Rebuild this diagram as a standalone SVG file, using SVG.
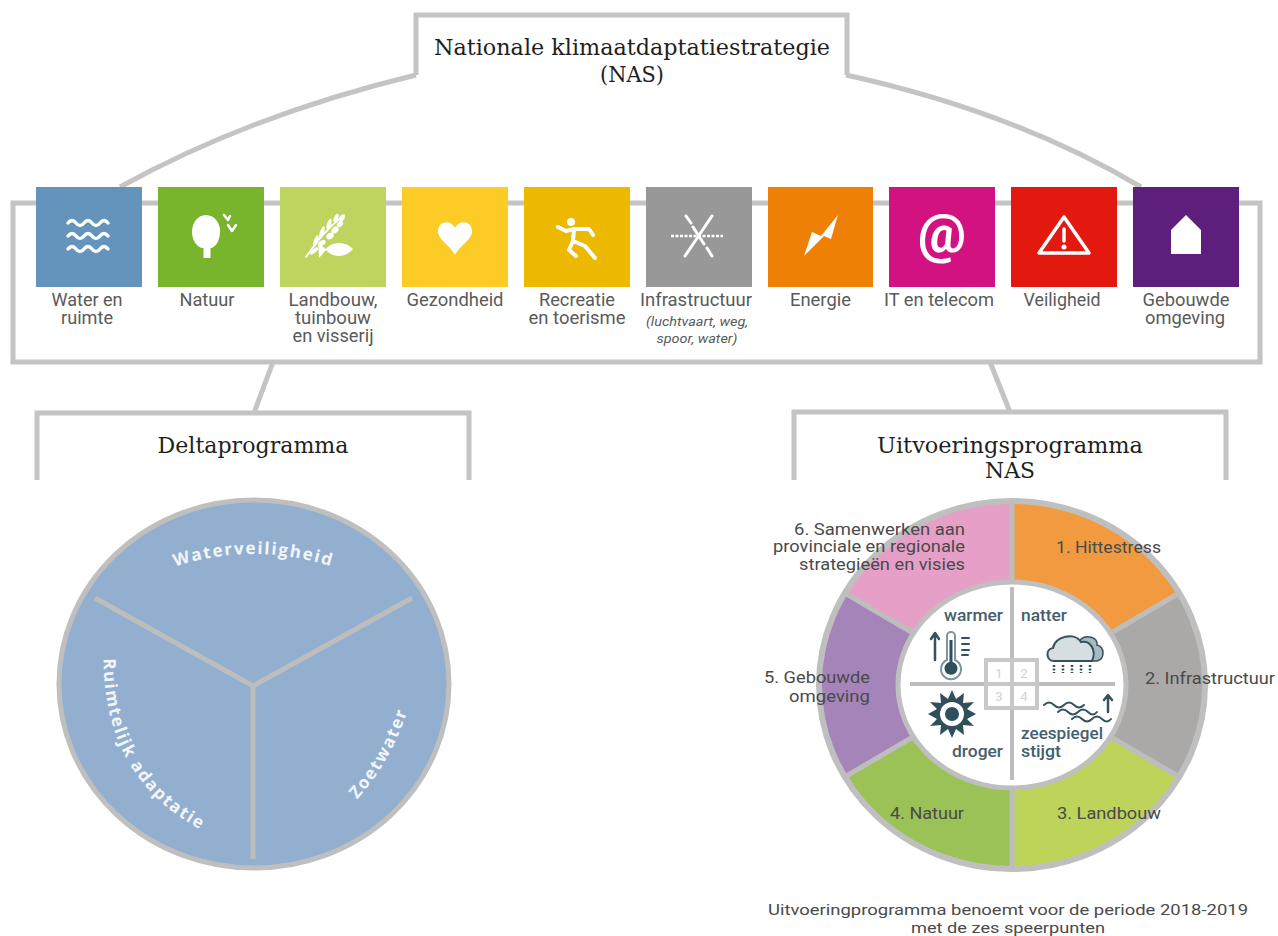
<svg xmlns="http://www.w3.org/2000/svg" width="1278" height="936" viewBox="0 0 1278 936">
<style>
text{font-family:Roboto,"Liberation Sans",sans-serif}
.fr{fill:none;stroke:#c4c4c4;stroke-width:5}
.sq{stroke:none}
.lb{font-size:17.500px;fill:#5a5a5a;text-anchor:middle}
.it{font-size:13.500px;font-style:italic;fill:#5a5a5a;text-anchor:middle}
.ti{font-family:"DejaVu Serif","Liberation Serif",serif;font-size:22px;fill:#1f1f1f;text-anchor:middle}
.ic{fill:none;stroke:#fff;stroke-width:3;stroke-linecap:round;stroke-linejoin:round}
.wf{fill:#fff;stroke:none}
.cv{font-family:"Open Sans","Liberation Sans",sans-serif;font-size:17px;font-weight:700;fill:#f2f6fa;letter-spacing:1.700px}
.sg{font-size:16.500px;fill:#4a4a4a}
.ft{font-size:15.200px;fill:#4a4a4a;text-anchor:middle}
.cl{font-size:17px;font-weight:500;fill:#44606c}
.n{font-size:13px;fill:#d2d2d2;text-anchor:middle}
.dk{fill:none;stroke:#35525e;stroke-width:2.500;stroke-linecap:round;stroke-linejoin:round}
.df{fill:#2f4f5b;stroke:none}
.sp{stroke:#bdbdbd;stroke-width:5;fill:none}
</style>
<rect width="1278" height="936" fill="#fff"/>
<g id="connectors">
<path class="fr" d="M120,187 Q250,115 416,75 M846,75 Q1015,112 1141,187"/>
<path class="fr" d="M273,362 L254,413 M990,362 L1010,412"/>
</g>
<g id="nas-title">
<path class="fr" d="M416,75 V15 H847 V75"/>
<text class="ti" x="632" y="55" textLength="396" lengthAdjust="spacingAndGlyphs">Nationale klimaatdaptatiestrategie</text>
<text class="ti" x="632" y="82" textLength="64" lengthAdjust="spacingAndGlyphs">(NAS)</text>
</g>
<g id="sector-frame"><rect class="fr" x="13" y="203" width="1247" height="159"/></g>
<g id="water">
<rect class="sq" x="36" y="187" width="106" height="100" fill="#6494bc"/>
<path class="ic" style="stroke-width:3.500" d="M68,223 q4,-5 8,0 t8,0 t8,0 t8,0 t8,0 M68,236 q4,-5 8,0 t8,0 t8,0 t8,0 t8,0 M68,249 q4,-5 8,0 t8,0 t8,0 t8,0 t8,0"/>
<text class="lb" x="87" y="306" textLength="71" lengthAdjust="spacingAndGlyphs">Water en</text><text class="lb" x="87" y="324" textLength="52" lengthAdjust="spacingAndGlyphs">ruimte</text>
</g>
<g id="natuur">
<rect class="sq" x="158" y="187" width="106" height="100" fill="#78b42c"/>
<path class="wf" d="M206,215 C216,215 221,226 220,232 C220,241 215,248 210.500,248 V258 H203.500 V248 C197,248 192,240 192,232 C192,224 197,215 206,215Z"/>
<path class="ic" style="stroke-width:2.500" d="M224,215 L228,220 L230,216 M228,225 L232,231 L236,225"/>
<text class="lb" x="207" y="306" textLength="55" lengthAdjust="spacingAndGlyphs">Natuur</text>
</g>
<g id="landbouw">
<rect class="sq" x="280" y="187" width="106" height="100" fill="#bdd45e"/>
<path class="ic" style="stroke-width:1.800" d="M306,257 C316,243 325,230 344,215"/>
<g class="wf">
<ellipse cx="342" cy="218" rx="2.500" ry="3.500" transform="rotate(30 342 218)"/><ellipse cx="336" cy="218" rx="2" ry="4.500" transform="rotate(25 336 218)"/><ellipse cx="340" cy="224" rx="2.500" ry="3.500" transform="rotate(50 340 224)"/><ellipse cx="329" cy="224" rx="2" ry="5.500" transform="rotate(20 329 224)"/><ellipse cx="335" cy="230" rx="3" ry="4" transform="rotate(50 335 230)"/><ellipse cx="322" cy="232" rx="2" ry="6" transform="rotate(20 322 232)"/><ellipse cx="330" cy="236" rx="3" ry="4" transform="rotate(55 330 236)"/><ellipse cx="316" cy="241" rx="2.200" ry="6" transform="rotate(20 316 241)"/><ellipse cx="322" cy="243" rx="2.500" ry="4" transform="rotate(60 322 243)"/><ellipse cx="314" cy="251" rx="5" ry="2" transform="rotate(-40 314 251)"/>
</g>
<path class="wf" d="M318,243 L326,249 C332,241 346,241 353,249 C346,258 332,258 326,250 L319,258Z"/>
<text class="lb" x="333" y="306" textLength="89" lengthAdjust="spacingAndGlyphs">Landbouw,</text><text class="lb" x="333" y="324" textLength="76" lengthAdjust="spacingAndGlyphs">tuinbouw</text><text class="lb" x="333" y="342" textLength="81" lengthAdjust="spacingAndGlyphs">en visserij</text>
</g>
<g id="gezondheid">
<rect class="sq" x="402" y="187" width="106" height="100" fill="#fdcb25"/>
<path class="wf" d="M455,255 C450,245 438,240 438,231 C438,221 451,219 455,228 C459,219 472,221 472,231 C472,240 460,245 455,255Z"/>
<text class="lb" x="455" y="306" textLength="97" lengthAdjust="spacingAndGlyphs">Gezondheid</text>
</g>
<g id="recreatie">
<rect class="sq" x="524" y="187" width="106" height="100" fill="#edb800"/>
<circle class="wf" cx="571" cy="222" r="4"/>
<path class="ic" style="stroke-width:4" d="M558,227 L566,231 L574,229 L589,229 L593,235 M574,229 L573,241 L585,246 L595,258 M573,241 L569,250 L576,256"/>
<text class="lb" x="577" y="306" textLength="76" lengthAdjust="spacingAndGlyphs">Recreatie</text><text class="lb" x="577" y="324" textLength="97" lengthAdjust="spacingAndGlyphs">en toerisme</text>
</g>
<g id="infrastructuur">
<rect class="sq" x="646" y="187" width="106" height="100" fill="#989898"/>
<path class="ic" d="M712,216 L685,256"/>
<path class="ic" d="M686,216 L691,223 M693,227 L704,244 M707,248 L712,256"/>
<path class="ic" style="stroke-width:2.500;stroke-dasharray:3 1.500;stroke-linecap:butt" d="M671,236 H723"/>
<text class="lb" x="696" y="306" textLength="112" lengthAdjust="spacingAndGlyphs">Infrastructuur</text>
<text class="it" x="697" y="326" textLength="102" lengthAdjust="spacingAndGlyphs">(luchtvaart, weg,</text><text class="it" x="697" y="343" textLength="81" lengthAdjust="spacingAndGlyphs">spoor, water)</text>
</g>
<g id="energie">
<rect class="sq" x="768" y="187" width="105" height="100" fill="#ee8006"/>
<path class="wf" d="M838,215 L831,239 L824,236 L804,256 L812,232 L821,236Z"/>
<text class="lb" x="820.500" y="306" textLength="61" lengthAdjust="spacingAndGlyphs">Energie</text>
</g>
<g id="it">
<rect class="sq" x="889" y="187" width="106" height="100" fill="#d21280"/>
<text x="942" y="252" font-size="54" font-weight="700" fill="#fff" text-anchor="middle">@</text>
<text class="lb" x="939" y="306" textLength="110" lengthAdjust="spacingAndGlyphs">IT en telecom</text>
</g>
<g id="veiligheid">
<rect class="sq" x="1011" y="187" width="106" height="100" fill="#e3190f"/>
<path class="ic" style="stroke-width:3.500" d="M1064,217 L1089,253 H1039Z"/>
<path class="ic" style="stroke-width:3.500" d="M1064,229 V241"/><circle class="wf" cx="1064" cy="247" r="2.500"/>
<text class="lb" x="1062" y="306" textLength="77" lengthAdjust="spacingAndGlyphs">Veiligheid</text>
</g>
<g id="gebouwde">
<rect class="sq" x="1133" y="187" width="106" height="100" fill="#5e1f7c"/>
<path class="wf" d="M1186,215 L1201,230 V254 H1171 V230Z"/>
<text class="lb" x="1186" y="306" textLength="87" lengthAdjust="spacingAndGlyphs">Gebouwde</text><text class="lb" x="1185" y="324" textLength="80" lengthAdjust="spacingAndGlyphs">omgeving</text>
</g>
<g id="deltaprogramma">
<path class="fr" d="M37,480 V413 H469 V480"/>
<text class="ti" x="253" y="453" textLength="191" lengthAdjust="spacingAndGlyphs">Deltaprogramma</text>
<ellipse cx="254" cy="684" rx="195" ry="184" fill="#93afcf" stroke="#bfbfbf" stroke-width="5"/>
<path class="sp" d="M95,598 L253,686 L412,598 M253,686 V859"/>
<defs>
<path id="arcW" d="M160,572 Q253,536 347,572"/>
<path id="arcZ" d="M338,818 Q394,770 415,685"/>
<path id="arcR" d="M104,640 Q96,785 218,838"/>
</defs>
<text class="cv"><textPath href="#arcW" startOffset="50%" text-anchor="middle">Waterveiligheid</textPath></text>
<text class="cv"><textPath href="#arcZ" startOffset="50%" text-anchor="middle">Zoetwater</textPath></text>
<text class="cv"><textPath href="#arcR" startOffset="50%" text-anchor="middle">Ruimtelijk adaptatie</textPath></text>
</g>
<g id="uitvoeringsprogramma">
<path class="fr" d="M794,480 V412 H1226 V480"/>
<text class="ti" x="1010" y="453" textLength="266" lengthAdjust="spacingAndGlyphs">Uitvoeringsprogramma</text>
<text class="ti" x="1010" y="478" textLength="50" lengthAdjust="spacingAndGlyphs">NAS</text>
</g>
<g id="speerpunten">
<path fill="#f29a3f" d="M1012,500 A193,182 0 0 1 1179,594 L1111,633 A114,103 0 0 0 1012,582Z"/>
<path fill="#aba8a8" d="M1179,594 A193,182 0 0 1 1179,776 L1111,737 A114,103 0 0 0 1111,633Z"/>
<path fill="#bdd35a" d="M1179,776 A193,182 0 0 1 1012,867 V788 A114,103 0 0 0 1111,737Z"/>
<path fill="#9bc257" d="M1012,867 A193,182 0 0 1 845,776 L913,737 A114,103 0 0 0 1012,788Z"/>
<path fill="#a584b9" d="M845,776 A193,182 0 0 1 845,594 L913,633 A114,103 0 0 0 913,737Z"/>
<path fill="#e69fc6" d="M845,594 A193,182 0 0 1 1012,503 V582 A114,103 0 0 0 913,633Z"/>
<ellipse cx="1012" cy="685" rx="193" ry="184" fill="none" stroke="#bfbfbf" stroke-width="6"/>
<ellipse cx="1012" cy="685" rx="114" ry="103" fill="#fff" stroke="#bfbfbf" stroke-width="5"/>
<path class="sp" d="M1012,501 V582 M1012,788 V869 M1181,592 L1111,633 M1181,778 L1111,737 M843,592 L913,633 M843,778 L913,737"/>
<path class="sp" style="stroke-width:4" d="M1012,587 V780 M910,684 H1115"/>
<rect x="986" y="660" width="51" height="48" fill="#fff" stroke="#c8c8c8" stroke-width="4"/>
<path class="sp" style="stroke-width:4;stroke:#c8c8c8" d="M1012,660 V708 M986,684 H1037"/>
<text class="n" x="999" y="678">1</text><text class="n" x="1024" y="678">2</text><text class="n" x="999" y="701">3</text><text class="n" x="1024" y="701">4</text>
<text class="cl" x="1003" y="621" text-anchor="end" textLength="59" lengthAdjust="spacingAndGlyphs">warmer</text>
<text class="cl" x="1021" y="621" textLength="46" lengthAdjust="spacingAndGlyphs">natter</text>
<text class="cl" x="1003" y="757" text-anchor="end" textLength="51" lengthAdjust="spacingAndGlyphs">droger</text>
<text class="cl" x="1021" y="739" textLength="82" lengthAdjust="spacingAndGlyphs">zeespiegel</text>
<text class="cl" x="1021" y="757" textLength="40" lengthAdjust="spacingAndGlyphs">stijgt</text>
<path class="dk" d="M935,660 V634 M931,639 L935,633 L939,639"/>
<path d="M947,660 V636 a4,4 0 0 1 8,0 V660 a10,10 0 1 1 -8,0Z" fill="#fff" stroke="#7d949c" stroke-width="2"/>
<path class="df" d="M949.500,640 h3 v22 a6.500,6.500 0 1 1 -3,0Z"/>
<path class="dk" d="M962,638 H969 M962,644 H969 M962,650 H969 M962,655 H968" style="stroke-width:2"/>
<path d="M1080,640 C1086,634 1098,637 1097,645 C1105,647 1105,659 1097,661 H1090Z" fill="#a9b9bf" stroke="#35525e" stroke-width="1.500"/>
<path d="M1054,661 C1046,661 1045,649 1053,648 C1055,636 1075,632 1081,642 C1090,640 1097,650 1092,661Z" fill="#d5dee1" stroke="#35525e" stroke-width="2"/>
<path d="M1054,665 V673 M1063,665 V673 M1072,665 V673 M1081,665 V673 M1090,665 V673" stroke="#35525e" stroke-width="2.500" stroke-dasharray="2 1.500" fill="none"/>
<path class="df" d="M952,690 L956,699 L964,693 L963,703 L974,702 L967,709 L976,714 L967,719 L974,726 L963,725 L964,735 L956,729 L952,738 L948,729 L940,735 L941,725 L930,726 L937,719 L928,714 L937,709 L930,702 L941,703 L940,693 L948,699Z"/>
<circle cx="952" cy="714" r="12" fill="#fff"/><circle class="df" cx="952" cy="714" r="7"/>
<path class="dk" style="stroke-width:2" d="M1044,705 q5,-5 10,0 t10,0 t10,0 t10,0 M1058,712 q5,-5 10,0 t10,0 t10,0 t9,0 M1072,719 q5,-5 10,0 t10,0 t10,0 t9,0"/>
<path class="dk" d="M1108,712 V696 M1104,700 L1108,695 L1112,700"/>
<text class="sg" x="965" y="535" text-anchor="end" textLength="171" lengthAdjust="spacingAndGlyphs">6. Samenwerken aan</text>
<text class="sg" x="965" y="552" text-anchor="end" textLength="192" lengthAdjust="spacingAndGlyphs">provinciale en regionale</text>
<text class="sg" x="965" y="570" text-anchor="end" textLength="166" lengthAdjust="spacingAndGlyphs">strategieën en visies</text>
<text class="sg" x="1056" y="553" textLength="105" lengthAdjust="spacingAndGlyphs">1. Hittestress</text>
<text class="sg" x="1145" y="684" textLength="130" lengthAdjust="spacingAndGlyphs">2. Infrastructuur</text>
<text class="sg" x="1057" y="819" textLength="104" lengthAdjust="spacingAndGlyphs">3. Landbouw</text>
<text class="sg" x="890" y="819" textLength="74" lengthAdjust="spacingAndGlyphs">4. Natuur</text>
<text class="sg" x="870" y="683" text-anchor="end" textLength="106" lengthAdjust="spacingAndGlyphs">5. Gebouwde</text>
<text class="sg" x="870" y="702" text-anchor="end" textLength="81" lengthAdjust="spacingAndGlyphs">omgeving</text>
<text class="ft" x="1008" y="915" textLength="480" lengthAdjust="spacingAndGlyphs">Uitvoeringprogramma benoemt voor de periode 2018-2019</text>
<text class="ft" x="1008" y="933" textLength="194" lengthAdjust="spacingAndGlyphs">met de zes speerpunten</text>
</g>
</svg>
